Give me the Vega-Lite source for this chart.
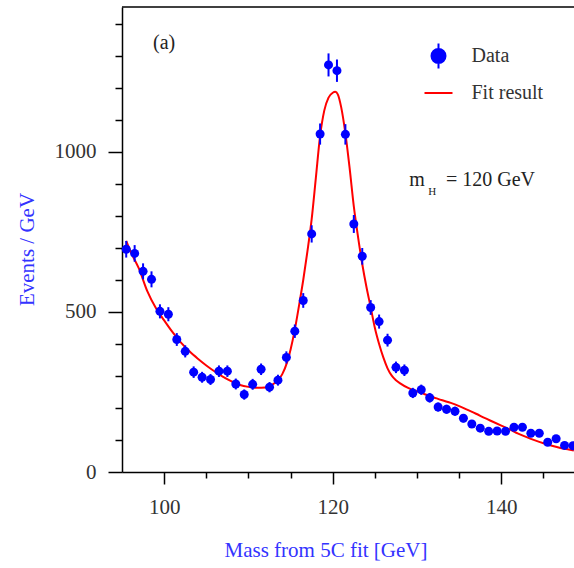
{
  "$schema": "https://vega.github.io/schema/vega-lite/v6.json",
  "width": 452,
  "height": 465,
  "autosize": {"type": "none"},
  "padding": {"left": 122, "top": 7, "right": 0, "bottom": 96},
  "background": "white",
  "resolve": {"axis": {"x": "independent", "y": "independent"}},
  "config": {
    "view": {"stroke": null},
    "font": "Liberation Serif",
    "axis": {
      "domainColor": "#000",
      "domainWidth": 1.5,
      "tickColor": "#000",
      "tickWidth": 1.5,
      "grid": false,
      "labelFont": "Liberation Serif",
      "labelFontSize": 21,
      "labelColor": "#333",
      "titleFont": "Liberation Serif",
      "titleFontSize": 21,
      "titleColor": "#3333ff",
      "titleFontWeight": "normal"
    }
  },
  "datasets": {
    "pts": [
      {"m": 95.5, "n": 696, "err": 26}, {"m": 96.5, "n": 683, "err": 26},
      {"m": 97.5, "n": 627, "err": 25}, {"m": 98.5, "n": 602, "err": 25},
      {"m": 99.5, "n": 502, "err": 22}, {"m": 100.5, "n": 493, "err": 22},
      {"m": 101.5, "n": 414, "err": 20}, {"m": 102.5, "n": 377, "err": 19},
      {"m": 103.5, "n": 312, "err": 18}, {"m": 104.5, "n": 296, "err": 17},
      {"m": 105.5, "n": 289, "err": 17}, {"m": 106.5, "n": 315, "err": 18},
      {"m": 107.5, "n": 315, "err": 18}, {"m": 108.5, "n": 275, "err": 17},
      {"m": 109.5, "n": 242, "err": 16}, {"m": 110.5, "n": 274, "err": 17},
      {"m": 111.5, "n": 321, "err": 18}, {"m": 112.5, "n": 265, "err": 16},
      {"m": 113.5, "n": 287, "err": 17}, {"m": 114.5, "n": 358, "err": 19},
      {"m": 115.5, "n": 440, "err": 21}, {"m": 116.5, "n": 536, "err": 23},
      {"m": 117.5, "n": 744, "err": 27}, {"m": 118.5, "n": 1056, "err": 33},
      {"m": 119.5, "n": 1272, "err": 36}, {"m": 120.5, "n": 1254, "err": 35},
      {"m": 121.5, "n": 1055, "err": 32}, {"m": 122.5, "n": 775, "err": 28},
      {"m": 123.5, "n": 674, "err": 26}, {"m": 124.5, "n": 514, "err": 23},
      {"m": 125.5, "n": 470, "err": 22}, {"m": 126.5, "n": 412, "err": 20},
      {"m": 127.5, "n": 327, "err": 18}, {"m": 128.5, "n": 318, "err": 18},
      {"m": 129.5, "n": 247, "err": 16}, {"m": 130.5, "n": 257, "err": 16},
      {"m": 131.5, "n": 232, "err": 15}, {"m": 132.5, "n": 203, "err": 14},
      {"m": 133.5, "n": 196, "err": 14}, {"m": 134.5, "n": 190, "err": 14},
      {"m": 135.5, "n": 168, "err": 13}, {"m": 136.5, "n": 150, "err": 12},
      {"m": 137.5, "n": 137, "err": 12}, {"m": 138.5, "n": 127, "err": 11},
      {"m": 139.5, "n": 128, "err": 11}, {"m": 140.5, "n": 127, "err": 11},
      {"m": 141.5, "n": 140, "err": 12}, {"m": 142.5, "n": 140, "err": 12},
      {"m": 143.5, "n": 121, "err": 11}, {"m": 144.5, "n": 121, "err": 11},
      {"m": 145.5, "n": 93, "err": 10}, {"m": 146.5, "n": 104, "err": 10},
      {"m": 147.5, "n": 83, "err": 9}, {"m": 148.5, "n": 82, "err": 9}
    ],
    "fit": [
      {"m": 95.5, "v": 722}, {"m": 96, "v": 690}, {"m": 97, "v": 636},
      {"m": 98, "v": 565}, {"m": 99, "v": 513}, {"m": 100, "v": 474},
      {"m": 101, "v": 437}, {"m": 102, "v": 404}, {"m": 103, "v": 377},
      {"m": 104, "v": 354}, {"m": 105, "v": 333}, {"m": 106, "v": 314},
      {"m": 107, "v": 297}, {"m": 108, "v": 283}, {"m": 109, "v": 272},
      {"m": 110, "v": 266}, {"m": 111, "v": 263}, {"m": 112, "v": 264},
      {"m": 112.8, "v": 272}, {"m": 113.5, "v": 287}, {"m": 114, "v": 305},
      {"m": 114.6, "v": 344}, {"m": 115, "v": 383}, {"m": 115.5, "v": 445},
      {"m": 116, "v": 520}, {"m": 116.5, "v": 600}, {"m": 117, "v": 690},
      {"m": 117.5, "v": 790}, {"m": 118, "v": 920}, {"m": 118.5, "v": 1050},
      {"m": 119, "v": 1130}, {"m": 119.5, "v": 1170}, {"m": 120, "v": 1185},
      {"m": 120.3, "v": 1188}, {"m": 120.6, "v": 1180}, {"m": 121, "v": 1140},
      {"m": 121.5, "v": 1058}, {"m": 122, "v": 950}, {"m": 122.5, "v": 830},
      {"m": 123, "v": 735}, {"m": 123.5, "v": 650}, {"m": 124, "v": 578},
      {"m": 124.5, "v": 515}, {"m": 125, "v": 450}, {"m": 125.5, "v": 400},
      {"m": 126, "v": 358}, {"m": 126.5, "v": 324}, {"m": 127, "v": 301},
      {"m": 127.5, "v": 287}, {"m": 128, "v": 277}, {"m": 129, "v": 262},
      {"m": 130, "v": 252}, {"m": 131, "v": 242}, {"m": 132, "v": 233},
      {"m": 133, "v": 224}, {"m": 134, "v": 216}, {"m": 135, "v": 206},
      {"m": 136, "v": 194}, {"m": 137, "v": 182}, {"m": 138, "v": 169},
      {"m": 139, "v": 157}, {"m": 140, "v": 145}, {"m": 141, "v": 133},
      {"m": 142, "v": 120}, {"m": 143, "v": 109}, {"m": 144, "v": 99},
      {"m": 145, "v": 90}, {"m": 146, "v": 82}, {"m": 147, "v": 75},
      {"m": 148, "v": 70}, {"m": 148.6, "v": 67}
    ]
  },
  "layer": [
    {
      "data": {"name": "fit"},
      "mark": {"type": "line", "strokeWidth": 2, "interpolate": "monotone"},
      "encoding": {
        "x": {
          "field": "m", "type": "quantitative",
          "scale": {"domain": [95, 148.62], "nice": false, "zero": false},
          "axis": {
            "title": "Mass from 5C fit [GeV]",
            "values": [100, 105, 110, 115, 120, 125, 130, 135, 140, 145],
            "labelExpr": "datum.value % 20 == 0 ? datum.label : ''",
            "tickSize": {"condition": {"test": "datum.value % 20 == 0", "value": 12}, "value": 6},
            "labelPadding": 12,
            "labelOverlap": false,
            "labelFlush": false,
            "titleX": 203.5,
            "titleY": 78,
            "titleAlign": "center",
            "titleBaseline": "middle"
          }
        },
        "y": {
          "field": "v", "type": "quantitative",
          "scale": {"domain": [0, 1453], "nice": false},
          "axis": {
            "title": "Events / GeV",
            "values": [0, 100, 200, 300, 400, 500, 600, 700, 800, 900, 1000, 1100, 1200, 1300, 1400],
            "format": "d",
            "labelExpr": "datum.value % 500 == 0 ? datum.label : ''",
            "tickSize": {"condition": {"test": "datum.value % 500 == 0", "value": 14}, "value": 7},
            "labelPadding": 12,
            "labelOverlap": false,
            "labelFlush": false,
            "titleX": -95,
            "titleY": 242,
            "titleAngle": -90,
            "titleAlign": "center",
            "titleBaseline": "middle"
          }
        },
        "color": {
          "datum": "Fit result",
          "scale": {"domain": ["Data", "Fit result"], "range": ["#0000ff", "#ff0000"]},
          "legend": {
            "orient": "none",
            "legendX": 301.5,
            "legendY": 34,
            "title": null,
            "padding": 0,
            "symbolSize": 784,
            "symbolStrokeWidth": 2,
            "symbolOpacity": 1,
            "labelFont": "Liberation Serif",
            "labelFontSize": 20,
            "labelColor": "#333",
            "labelOffset": 18,
            "labelLimit": 0,
            "rowPadding": 5,
            "encode": {
              "symbols": {
                "update": {
                  "shape": {"signal": "datum.value == 'Data' ? 'M-0.5,0A0.5,0.5,0,1,1,0.5,0A0.5,0.5,0,1,1,-0.5,0ZM0,-0.9L0,0.9' : 'stroke'"},
                  "fill": {"signal": "datum.value == 'Data' ? '#0000ff' : 'transparent'"},
                  "stroke": {"signal": "datum.value == 'Data' ? '#0000ff' : '#ff0000'"},
                  "strokeWidth": {"value": 2},
                  "opacity": {"value": 1}
                }
              }
            }
          }
        }
      }
    },
    {
      "data": {"values": [{}]},
      "mark": {"type": "rule", "color": "#000", "strokeWidth": 1.5},
      "encoding": {"y": {"datum": 1453, "type": "quantitative", "axis": null}}
    },
    {
      "data": {"name": "pts"},
      "mark": {"type": "errorbar", "color": "#0000ff", "thickness": 2, "ticks": false},
      "encoding": {
        "x": {"field": "m", "type": "quantitative", "axis": null},
        "y": {"field": "n", "type": "quantitative", "axis": null},
        "yError": {"field": "err"}
      }
    },
    {
      "data": {"name": "pts"},
      "mark": {"type": "errorbar", "color": "#0000ff", "thickness": 2, "ticks": false},
      "encoding": {
        "y": {"field": "n", "type": "quantitative", "axis": null},
        "x": {"field": "m", "type": "quantitative", "axis": null},
        "xError": {"value": 0.5}
      }
    },
    {
      "data": {"name": "pts"},
      "mark": {"type": "point", "filled": true, "size": 81, "opacity": 1},
      "encoding": {
        "x": {"field": "m", "type": "quantitative", "axis": null},
        "y": {"field": "n", "type": "quantitative", "axis": null},
        "color": {"datum": "Data"}
      }
    },
    {
      "data": {"values": [{}]},
      "mark": {"type": "text", "text": "(a)", "fontSize": 20, "align": "center", "baseline": "middle", "color": "#222", "font": "Liberation Serif"},
      "encoding": {"x": {"datum": 100, "type": "quantitative", "axis": null}, "y": {"datum": 1339, "type": "quantitative", "axis": null}}
    },
    {
      "data": {"values": [{}]},
      "mark": {"type": "text", "text": "m", "fontSize": 20, "align": "left", "baseline": "alphabetic", "color": "#222", "font": "Liberation Serif"},
      "encoding": {"x": {"datum": 129.08, "type": "quantitative", "axis": null}, "y": {"datum": 893, "type": "quantitative", "axis": null}}
    },
    {
      "data": {"values": [{}]},
      "mark": {"type": "text", "text": "H", "fontSize": 11, "align": "left", "baseline": "alphabetic", "color": "#222", "font": "Liberation Serif"},
      "encoding": {"x": {"datum": 131.33, "type": "quantitative", "axis": null}, "y": {"datum": 865, "type": "quantitative", "axis": null}}
    },
    {
      "data": {"values": [{}]},
      "mark": {"type": "text", "text": "= 120 GeV", "fontSize": 20, "align": "left", "baseline": "alphabetic", "color": "#222", "font": "Liberation Serif"},
      "encoding": {"x": {"datum": 133.43, "type": "quantitative", "axis": null}, "y": {"datum": 893, "type": "quantitative", "axis": null}}
    }
  ]
}
